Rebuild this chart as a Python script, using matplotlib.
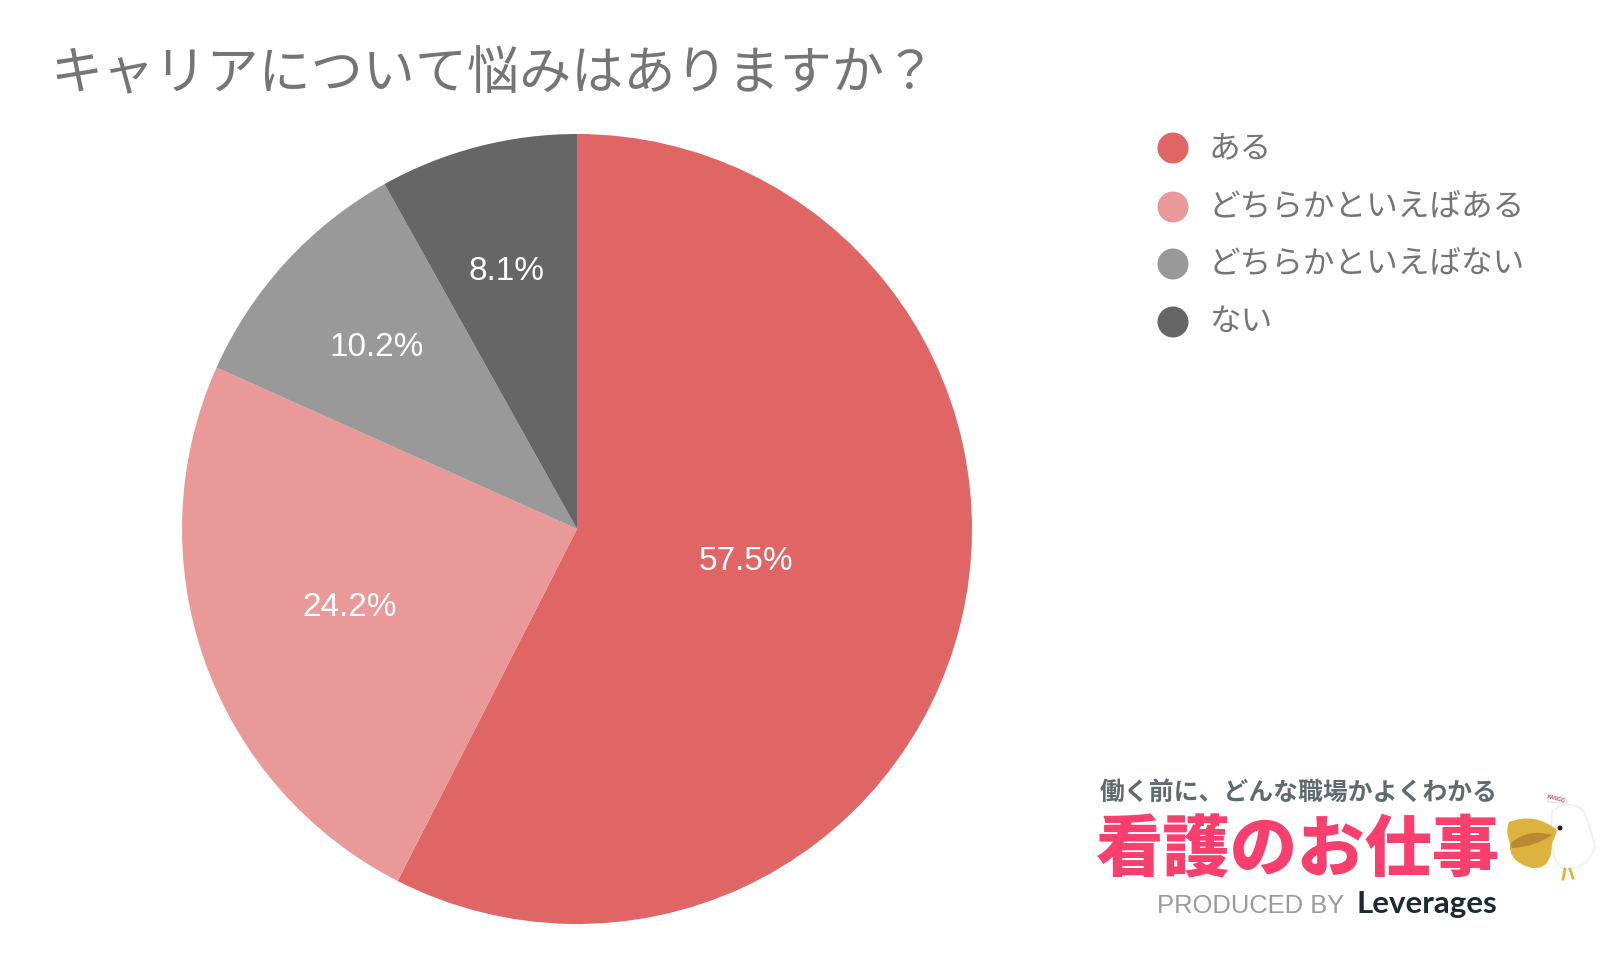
"""Pie chart: career worries survey, with the legend and service logo."""

import matplotlib
matplotlib.use("Agg")
import matplotlib.pyplot as plt
from matplotlib.patches import Circle, PathPatch, Polygon
from matplotlib.path import Path

plt.rcParams["font.family"] = ["Noto Sans CJK JP", "DejaVu Sans"]

TITLE = "キャリアについて悩みはありますか？"
CATEGORIES = ["ある", "どちらかといえばある", "どちらかといえばない", "ない"]
SHARES = [57.5, 24.2, 10.2, 8.1]
COLORS = ["#E06666", "#EA9999", "#999999", "#666666"]

W, H = 1600, 972

# pixel positions of the percentage labels, same order as SHARES
LABEL_XY = [(746, 561), (350, 607), (377, 347), (506, 271)]
LEGEND_Y = [148, 206, 263, 321]


def py(y):
    # y measured from the top of the image
    return H - y


def blob(points, **kwargs):
    # closed shape of quadratic curves: start, then (control, end) pairs
    verts = [(x, py(y)) for x, y in points]
    codes = [Path.MOVETO] + [Path.CURVE3] * (len(verts) - 1)
    return PathPatch(Path(verts, codes), **kwargs)


def draw_logo(ax):
    ax.text(1299, py(793), "働く前に、どんな職場かよくわかる", fontsize=17.9, color="#5f6b6d",
            weight="bold", ha="center", va="center")
    ax.text(1298, py(852), "看護のお仕事", fontsize=48.5, color="#F83F6D",
            weight="black", ha="center", va="center")
    ax.text(1157, py(906), "PRODUCED BY", fontsize=18.4, color="#9a9a9a",
            family="Liberation Sans", ha="left", va="center")
    ax.text(1497, py(904), "Leverages", fontsize=22.5, color="#1c2b33",
            family="Lato", weight="bold", ha="right", va="center")

    # pelican mascot
    ax.add_patch(blob([(1552, 812), (1566, 798), (1583, 810), (1590, 825), (1595, 847),
                       (1590, 866), (1567, 870), (1548, 868), (1552, 812)],
                      fc="white", ec="#ececec", lw=1))
    ax.add_patch(blob([(1509, 822), (1535, 812), (1557, 830), (1556, 836), (1552, 843),
                       (1552, 870), (1532, 868), (1508, 862), (1510, 843),
                       (1505, 832), (1509, 822)],
                      fc="#DDB23F", ec="none"))
    ax.add_patch(blob([(1511, 843), (1528, 828), (1552, 835), (1535, 847), (1512, 848),
                       (1510, 846), (1511, 843)],
                      fc="#B98A32", ec="none"))
    ax.add_patch(Circle((1560, py(828)), 2.5, fc="#222222", ec="none"))
    ax.add_patch(Polygon([(1547, py(795)), (1565, py(798)), (1568, py(803)), (1548, py(802))],
                         closed=True, fc="white", ec="#e3e3e3", lw=1))
    ax.text(1556, py(798.5), "KANGO", fontsize=3.6, color="#c0456a", rotation=-15,
            family="Liberation Sans", weight="bold", ha="center", va="center")
    ax.plot([1565, 1563], [py(869), py(879)], color="#DDB23F", lw=2)
    ax.plot([1570, 1573], [py(869), py(878)], color="#DDB23F", lw=2)


def main():
    fig = plt.figure(figsize=(W / 100, H / 100), dpi=100)
    ax = fig.add_axes([0, 0, 1, 1])

    ax.pie(SHARES, colors=COLORS, center=(577, py(529)), radius=395,
           startangle=90, counterclock=False, frame=True)
    ax.set_xlim(0, W)
    ax.set_ylim(0, H)
    ax.set_aspect("equal")
    ax.axis("off")

    ax.text(50, py(75), TITLE, fontsize=37.5, color="#757575", ha="left", va="center")

    for share, (x, y) in zip(SHARES, LABEL_XY):
        ax.text(x, py(y), f"{share}%", fontsize=24, color="white",
                family="Liberation Sans", ha="center", va="center")

    for name, color, y in zip(CATEGORIES, COLORS, LEGEND_Y):
        ax.add_patch(Circle((1173, py(y + (y != LEGEND_Y[0]))), 15.5, fc=color, ec="none"))
        ax.text(1209, py(y + 1), name, fontsize=22.8, color="#757575", ha="left", va="center")

    draw_logo(ax)

    fig.savefig("out.png", dpi=100, facecolor="white")


if __name__ == "__main__":
    main()
